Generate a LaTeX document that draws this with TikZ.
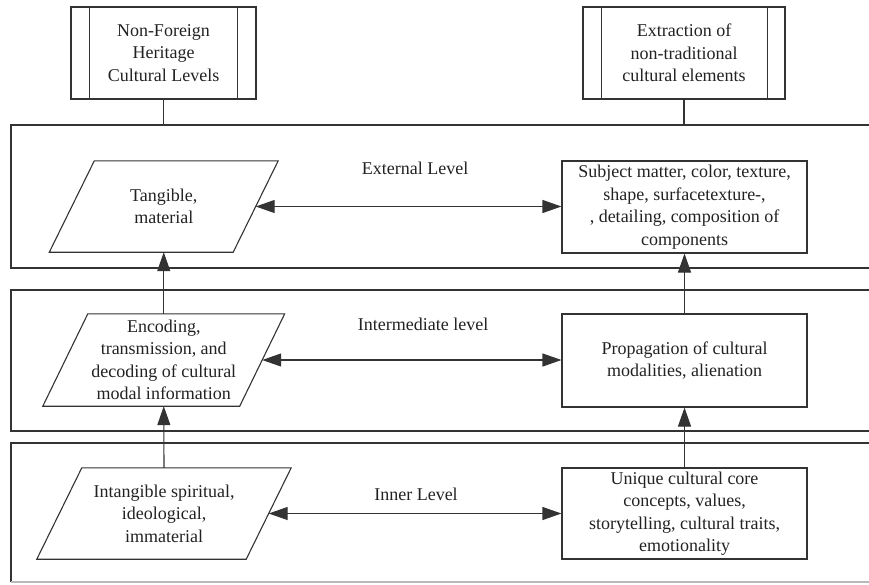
\documentclass[tikz,border=0pt]{standalone}
\usepackage{fontspec}
\setmainfont{Liberation Serif}
\usetikzlibrary{arrows.meta}
\definecolor{linec}{HTML}{333333}
\definecolor{textc}{HTML}{222222}
\begin{document}
\begin{tikzpicture}[x=1pt,y=-1pt,
  lay/.style={draw=linec, line width=1.1pt},
  txt/.style={font=\fontsize{18}{22.5}\selectfont, text=textc, align=center},
  box/.style={txt, rectangle, draw=linec, line width=1.1pt, minimum width=245pt, inner sep=0pt},
  topbox/.style={txt, rectangle, draw=linec, line width=1.1pt, minimum height=92pt, inner sep=0pt},
  para/.style={txt, rectangle, draw=none, inner sep=0pt},
  conn/.style={draw=linec, line width=1.1pt},
  arr/.style={conn, -{Triangle[length=19pt,width=13pt]}},
  darr/.style={conn, {Triangle[length=19pt,width=13pt]}-{Triangle[length=19pt,width=13pt]}}
]
\useasboundingbox (0,0) rectangle (869,584);

% layers (open on the right)
\draw[lay] (869,125) -- (11,125) -- (11,268) -- (869,268);
\draw[lay] (869,290) -- (11,290) -- (11,431) -- (869,431);
\draw[lay] (869,443) -- (11,443) -- (11,582);
\draw[lay, draw=gray!55] (11,582) -- (869,582);
\coordinate (l1top) at (400,125);

% top boxes
\node[topbox, minimum width=185pt] (tl) at (163.5,53) {Non-Foreign\\Heritage\\Cultural Levels};
\draw[lay] ([xshift=19pt]tl.north west) -- ([xshift=19pt]tl.south west);
\draw[lay] ([xshift=-19pt]tl.north east) -- ([xshift=-19pt]tl.south east);
\node[topbox, minimum width=202pt] (tr) at (684,53) {Extraction of\\non-traditional\\cultural elements};
\draw[lay] ([xshift=19pt]tr.north west) -- ([xshift=19pt]tr.south west);
\draw[lay] ([xshift=-18pt]tr.north east) -- ([xshift=-18pt]tr.south east);
\draw[conn] (tl.south) -- (tl.south |- l1top);
\draw[conn] (tr.south) -- (tr.south |- l1top);

% parallelograms (left column)
\node[para, minimum width=183.5pt, minimum height=91pt] (p1) at (163.75,206.5) {Tangible,\\material};
\node[para, minimum width=196.5pt, minimum height=92pt] (p2) at (163.75,360) {Encoding,\\transmission, and\\decoding of cultural\\modal information};
\node[para, minimum width=209pt, minimum height=91pt] (p3) at (164,513.5) {Intangible spiritual,\\ideological,\\immaterial};
\foreach \p in {p1,p2,p3}{
  \draw[lay] ([xshift=22.5pt]\p.north west) -- ([xshift=22.5pt]\p.north east)
    -- ([xshift=-22.5pt]\p.south east) -- ([xshift=-22.5pt]\p.south west) -- cycle;
}

% boxes (right column)
\node[box, minimum height=92pt] (b1) at (684.5,207) {Subject matter, color, texture,\\shape, surfacetexture-,\\, detailing, composition of\\components};
\node[box, minimum height=93pt] (b2) at (684.5,360.5) {Propagation of cultural\\modalities, alienation};
\node[box, minimum height=91pt] (b3) at (684.5,513.5) {Unique cultural core\\concepts, values,\\storytelling, cultural traits,\\emotionality};

% level labels
\node[txt] (lab1) at (415,168) {External Level};
\node[txt] (lab2) at (423,324) {Intermediate level};
\node[txt] (lab3) at (416,494) {Inner Level};

% horizontal double arrows
\draw[darr] (p1.east) -- (p1.east -| b1.west);
\draw[darr] (p2.east) -- (p2.east -| b2.west);
\draw[darr] (p3.east) -- (p3.east -| b3.west);

% vertical arrows
\draw[arr] (p2.north) -- (p1.south);
\draw[arr] (p3.north) -- (p2.south);
\draw[arr] (b2.north) -- (b1.south);
\draw[arr] (b3.north) -- (b2.south);
\end{tikzpicture}
\end{document}
